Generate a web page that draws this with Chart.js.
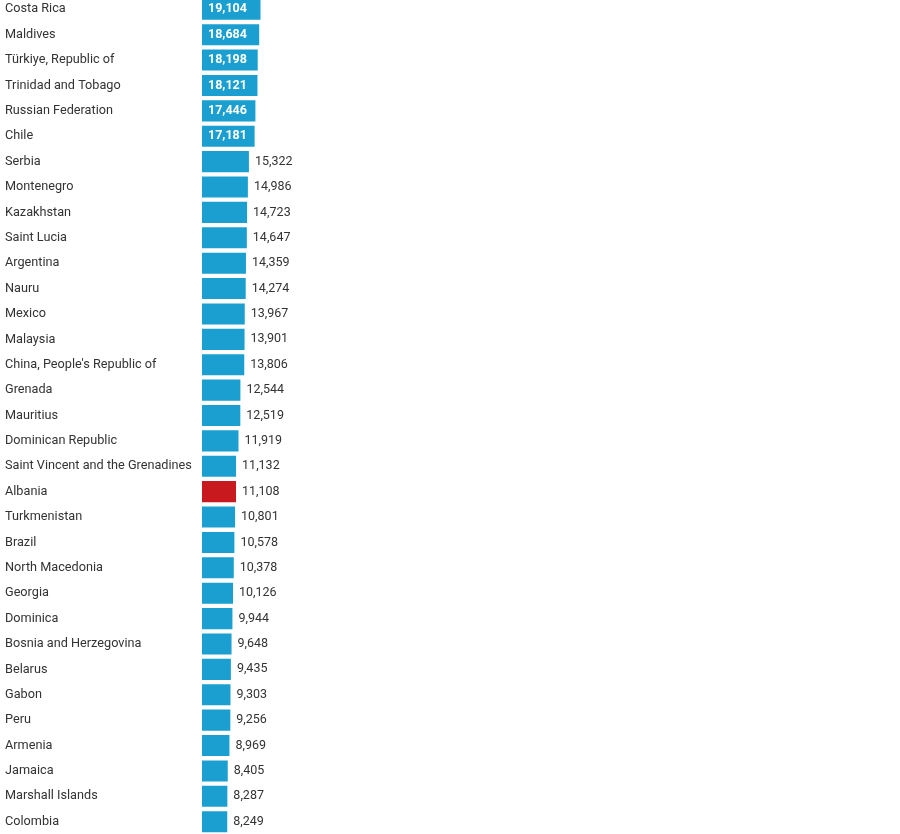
<!DOCTYPE html>
<html>
<head>
<meta charset="utf-8">
<script src="https://cdn.jsdelivr.net/npm/chart.js@4.4.0/dist/chart.umd.min.js"></script>
<style>
  html, body { margin: 0; padding: 0; background: #fff; overflow: hidden; }
  #wrap { position: absolute; left: 0; top: -11px; width: 900px; height: 853px; }
</style>
</head>
<body>
<div id="wrap"><canvas id="chart"></canvas></div>
<script>
const countries = [
  "Costa Rica", "Maldives", "Türkiye, Republic of", "Trinidad and Tobago", "Russian Federation",
  "Chile", "Serbia", "Montenegro", "Kazakhstan", "Saint Lucia", "Argentina", "Nauru", "Mexico",
  "Malaysia", "China, People's Republic of", "Grenada", "Mauritius", "Dominican Republic",
  "Saint Vincent and the Grenadines", "Albania", "Turkmenistan", "Brazil", "North Macedonia",
  "Georgia", "Dominica", "Bosnia and Herzegovina", "Belarus", "Gabon", "Peru", "Armenia",
  "Jamaica", "Marshall Islands", "Colombia"
];
const gdpPerCapita = [
  19104, 18684, 18198, 18121, 17446, 17181, 15322, 14986, 14723, 14647, 14359, 14274, 13967,
  13901, 13806, 12544, 12519, 11919, 11132, 11108, 10801, 10578, 10378, 10126, 9944, 9648,
  9435, 9303, 9256, 8969, 8405, 8287, 8249
];
const highlight = "Albania";

const BLUE = "#1a9fd0";
const RED = "#c8191e";
const FONT = "Roboto, 'Noto Sans', sans-serif";

// value labels: inside the bar (white bold) when they fit, otherwise after it
const valueLabels = {
  id: "valueLabels",
  afterDatasetsDraw(chart) {
    const ctx = chart.ctx;
    const meta = chart.getDatasetMeta(0);
    ctx.save();
    ctx.textBaseline = "middle";
    ctx.textAlign = "left";
    meta.data.forEach((bar, i) => {
      const txt = gdpPerCapita[i].toLocaleString("en-US");
      const w = bar.x - bar.base;
      ctx.font = "bold 12.5px " + FONT;
      const tw = ctx.measureText(txt).width;
      if (tw + 12 <= w) {
        ctx.fillStyle = "#fff";
        ctx.fillText(txt, bar.base + 6, bar.y);
      } else {
        ctx.font = "12.5px " + FONT;
        ctx.fillStyle = "#333";
        ctx.fillText(txt, bar.x + 6, bar.y);
      }
    });
    ctx.restore();
  }
};

new Chart(document.getElementById("chart"), {
  type: "bar",
  data: {
    labels: countries,
    datasets: [{
      data: gdpPerCapita,
      backgroundColor: countries.map(c => c === highlight ? RED : BLUE),
      categoryPercentage: 1,
      barPercentage: 0.83
    }]
  },
  options: {
    indexAxis: "y",
    responsive: true,
    maintainAspectRatio: false,
    animation: false,
    layout: { padding: { left: 5, right: 0, top: 0, bottom: 0 } },
    plugins: { legend: { display: false }, tooltip: { enabled: false } },
    scales: {
      x: { display: false, min: 0, max: 228000 },
      y: {
        border: { display: false },
        grid: { display: false, drawTicks: false },
        ticks: {
          crossAlign: "far",
          padding: 0,
          color: "#333",
          font: { family: FONT, size: 12.7 }
        },
        afterFit(scale) { scale.width = 197; }
      }
    }
  },
  plugins: [valueLabels]
});
</script>
</body>
</html>
